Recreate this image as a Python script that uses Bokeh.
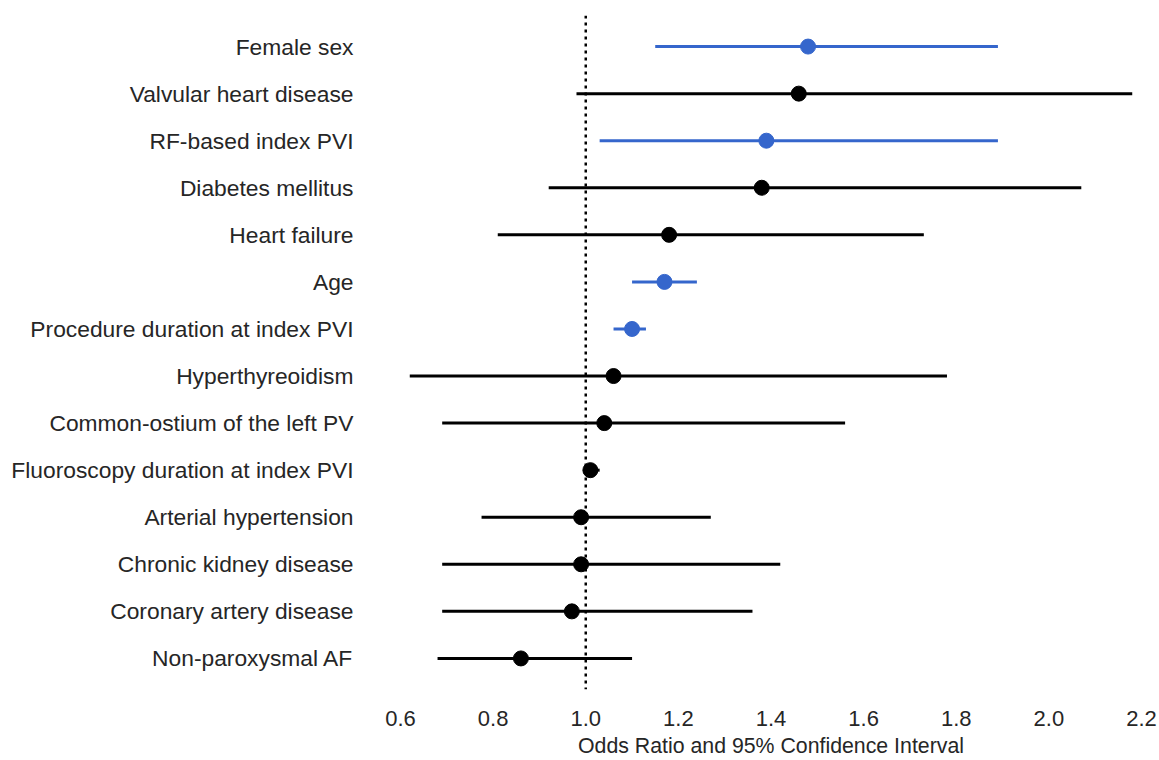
from bokeh.plotting import figure
from bokeh.models import ColumnDataSource, Span, FactorRange, Range1d, FixedTicker, PrintfTickFormatter
from bokeh.embed import file_html
from bokeh.resources import INLINE

# Data (top to bottom as displayed)
labels = [
    "Female sex",
    "Valvular heart disease",
    "RF-based index PVI",
    "Diabetes mellitus",
    "Heart failure",
    "Age",
    "Procedure duration at index PVI",
    "Hyperthyreoidism",
    "Common-ostium of the left PV",
    "Fluoroscopy duration at index PVI",
    "Arterial hypertension",
    "Chronic kidney disease",
    "Coronary artery disease",
    "Non-paroxysmal AF",
]
odds_ratio = [1.48, 1.46, 1.39, 1.38, 1.18, 1.17, 1.10, 1.06, 1.04, 1.01, 0.99, 0.99, 0.97, 0.86]
ci_lower = [1.15, 0.98, 1.03, 0.92, 0.81, 1.10, 1.06, 0.62, 0.69, 0.995, 0.775, 0.69, 0.69, 0.68]
ci_upper = [1.89, 2.18, 1.89, 2.07, 1.73, 1.24, 1.13, 1.78, 1.56, 1.03, 1.27, 1.42, 1.36, 1.10]
significant = [True, False, True, False, False, True, True, False, False, False, False, False, False, False]
x_ticks = [0.6, 0.8, 1.0, 1.2, 1.4, 1.6, 1.8, 2.0, 2.2]
reference_value = 1.0

SIG_COLOR = "#3566cc"
NS_COLOR = "#000000"
FONT = "Liberation Sans"
TEXT_COLOR = "#262626"

colors = [SIG_COLOR if s else NS_COLOR for s in significant]
source = ColumnDataSource(dict(label=labels, odds=odds_ratio, lo=ci_lower, hi=ci_upper, color=colors))

y_range = FactorRange(factors=list(reversed(labels)), range_padding=0.16, range_padding_units="absolute")

p = figure(
    width=1159, height=760,
    y_range=y_range, x_range=Range1d(0.6, 2.2),
    output_backend="svg", toolbar_location=None,
    min_border_left=400, min_border_right=18, min_border_top=15, min_border_bottom=70,
)

p.add_layout(Span(location=reference_value, dimension="height", line_color="black",
                  line_width=2.5, line_dash="3 4"))

p.segment(x0="lo", y0="label", x1="hi", y1="label", line_color="color", line_width=3, source=source)
p.scatter(x="odds", y="label", size=15, fill_color="color", line_color="color", source=source)

p.outline_line_color = None
p.grid.grid_line_color = None
p.background_fill_color = "white"
p.border_fill_color = "white"

p.xaxis.ticker = FixedTicker(ticks=x_ticks)
p.xaxis.formatter = PrintfTickFormatter(format="%.1f")
p.xaxis.axis_label = "Odds Ratio and 95% Confidence Interval"
for ax in (p.xaxis[0], p.yaxis[0]):
    ax.axis_line_color = None
    ax.major_tick_line_color = None
    ax.minor_tick_line_color = None
    ax.major_tick_out = 0
    ax.major_tick_in = 0
    ax.major_label_text_font = FONT
    ax.major_label_text_color = TEXT_COLOR

p.yaxis.major_label_text_font_size = "22.8px"
p.xaxis.major_label_text_font_size = "22px"
p.xaxis.major_label_standoff = 21
p.xaxis.axis_label_text_font = FONT
p.xaxis.axis_label_text_font_style = "normal"
p.xaxis.axis_label_text_font_size = "21.3px"
p.xaxis.axis_label_text_color = TEXT_COLOR
p.xaxis.axis_label_standoff = 5

p.yaxis.major_label_standoff = 47

open("out.html", "w").write(file_html(p, INLINE))
